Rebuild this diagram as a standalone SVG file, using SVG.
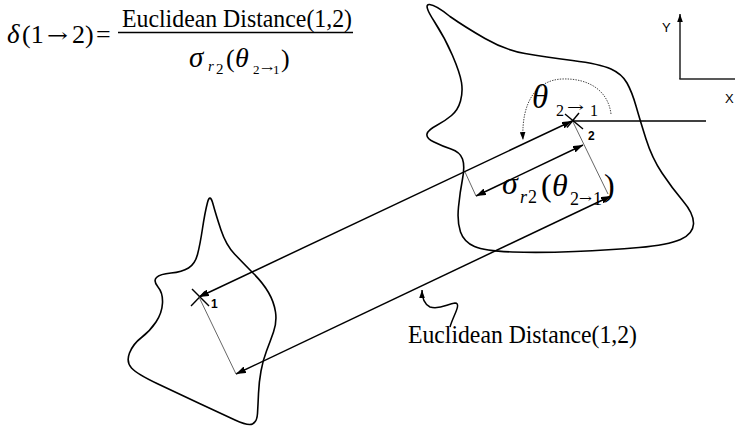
<svg xmlns="http://www.w3.org/2000/svg" width="735" height="428" viewBox="0 0 735 428">
<style>
.blob{fill:none;stroke:#000;stroke-width:1.6}
.ln{fill:none;stroke:#000;stroke-width:1.5}
.thin{fill:none;stroke:#555;stroke-width:0.9}
.dot{fill:none;stroke:#444;stroke-width:1;stroke-dasharray:1.4 1.2}
.ax{fill:none;stroke:#222;stroke-width:1.5}
.x{fill:none;stroke:#000;stroke-width:1.4}
.tm{font-family:"Liberation Serif","Times New Roman",serif;fill:#000}
.arw{font-family:"DejaVu Serif","DejaVu Sans",serif;fill:#000}
.it{font-style:italic}
.sans{font-family:"Liberation Sans",Arial,sans-serif;fill:#000}
.b{font-weight:bold}
</style>
<defs>
<marker id="ah" viewBox="0 0 10 7" refX="10" refY="3.5" markerUnits="userSpaceOnUse" markerWidth="10" markerHeight="7" orient="auto-start-reverse">
<path d="M0,0 L10,3.5 L0,7 z" fill="#000"/>
</marker>
<marker id="ahs" viewBox="0 0 10 7" refX="10" refY="3.5" markerUnits="userSpaceOnUse" markerWidth="8" markerHeight="6" orient="auto">
<path d="M0,0 L10,3.5 L0,7 z" fill="#000"/>
</marker>
</defs>

<g id="equation">
<text class="tm it" x="7" y="43" font-size="27">δ</text>
<text class="tm" x="22" y="43" font-size="26">(1</text>
<text class="arw" x="47" y="42" font-size="20" textLength="21" lengthAdjust="spacingAndGlyphs">→</text>
<text class="tm" x="72" y="43" font-size="26">2)</text>
<text class="tm" x="96" y="43" font-size="26">=</text>
<text class="tm" x="122" y="27" font-size="25" textLength="230" lengthAdjust="spacingAndGlyphs">Euclidean Distance(1,2)</text>
<line x1="118" y1="32.5" x2="353" y2="32.5" stroke="#000" stroke-width="1.3"/>
<text class="tm it" x="189" y="67" font-size="29">σ</text>
<text class="tm it" x="208" y="71" font-size="15">r</text>
<text class="tm" x="216" y="74" font-size="15">2</text>
<text class="tm" x="226" y="67" font-size="26">(</text>
<text class="tm it" x="235" y="67" font-size="28">θ</text>
<text class="tm" x="253" y="74" font-size="13">2</text>
<text class="arw" x="261" y="72" font-size="10" textLength="12" lengthAdjust="spacingAndGlyphs">→</text>
<text class="tm" x="273" y="74" font-size="13">1</text>
<text class="tm" x="281" y="67" font-size="26">)</text>
</g>

<g id="axes">
<line class="ax" x1="680" y1="79" x2="680" y2="14" marker-end="url(#ahs)"/>
<line class="ax" x1="679.3" y1="79" x2="735" y2="79"/>
<text class="sans" x="662" y="32" font-size="13">Y</text>
<text class="sans" x="725" y="103" font-size="13">X</text>
</g>

<g id="region2">
<path class="blob" d="M429.5,4.5 Q423,4 434,21 Q445,38 452.5,55.5 Q460,73 461.5,82.5 Q463,92 460.5,101 Q458,110 451.5,115.5 Q445,121 436.5,125.5 Q428,130 427,134 Q426,138 434,142 Q442,146 451,149 Q460,152 462.5,159 Q465,166 462.5,179 Q460,192 458.5,207 Q457,222 460.5,232 Q464,242 474.5,246.5 Q485,251 512.5,252 Q540,253 575,251.5 Q610,250 639,247.5 Q668,245 680.5,239.5 Q693,234 693.5,224 Q694,214 683,201 Q672,188 662,173 Q652,158 646,139 Q640,120 636,106 Q632,92 627,83 Q622,74 611,69 Q600,64 572.5,60.5 Q545,57 525,53.5 Q505,50 485,38.5 Q465,27 450,16.5 Q436,5 429.5,4.5 Z"/>
<line class="x" x1="565" y1="114" x2="583" y2="129"/>
<line class="x" x1="567" y1="127.5" x2="579" y2="113"/>
<text class="sans b" x="588" y="140" font-size="12">2</text>
</g>

<g id="region1">
<path class="blob" d="M207.5,202.5 Q210,193 213,204 Q216,215 221,230 Q226,245 234.5,254 Q243,263 253,273 Q263,283 268.5,292.5 Q274,302 275.5,312 Q277,322 273.5,332 Q270,342 266.5,351 Q263,360 261,371 Q259,382 258.5,393.5 Q258,405 257.5,413.5 Q257,422 252.5,424 Q248,426 235,420 Q222,414 199.5,403.5 Q177,393 157,383.5 Q137,374 131.5,368 Q126,362 129.5,353 Q133,344 141.5,337.5 Q150,331 156,322 Q162,313 162.5,303 Q163,293 158,287 Q153,281 156.5,277.5 Q160,274 171,273 Q182,272 188.5,268 Q195,264 197.5,254.5 Q200,245 202.5,228.5 Q205,212 207.5,202.5 Z"/>
<line class="x" x1="192" y1="289" x2="209" y2="306"/>
<line class="x" x1="191" y1="306" x2="205" y2="291.5"/>
<text class="sans b" x="211" y="308" font-size="12">1</text>
</g>

<g id="connectors">
<line class="ln" x1="199" y1="297" x2="572" y2="121" marker-start="url(#ah)" marker-end="url(#ah)"/>
<line class="ln" x1="236" y1="374" x2="611" y2="196" marker-start="url(#ah)" marker-end="url(#ah)"/>
<line class="ln" x1="476" y1="196" x2="583" y2="145" marker-start="url(#ah)" marker-end="url(#ah)"/>
<line class="thin" x1="199" y1="297" x2="236" y2="374"/>
<line class="thin" x1="573" y1="122" x2="608" y2="194"/>
<line class="thin" x1="465" y1="172" x2="476" y2="196"/>
<line class="ln" x1="573" y1="121" x2="706" y2="121" stroke-width="1.2"/>
<path class="dot" d="M611,114 C608,90 588,78 562,79 C538,80 521,100 523,140" marker-end="url(#ahs)"/>
<path class="ln" stroke-width="1.3" d="M450,327 C453,316 462,303 455,303 C447,304 440,310 430,307 C424,304 422,298 422,290" marker-end="url(#ahs)"/>
</g>

<g id="labels">
<text class="tm it" x="532" y="108" font-size="33">θ</text>
<text class="tm" x="556" y="116" font-size="16">2</text>
<text class="arw" x="567" y="112" font-size="14" textLength="17" lengthAdjust="spacingAndGlyphs">→</text>
<text class="tm" x="590" y="116" font-size="16">1</text>

<text class="tm it" x="502" y="194" font-size="32">σ</text>
<text class="tm it" x="520" y="203" font-size="18">r</text>
<text class="tm" x="528" y="203" font-size="18">2</text>
<text class="tm" x="541" y="196" font-size="32">(</text>
<text class="tm it" x="552" y="196" font-size="32">θ</text>
<text class="tm" x="570" y="205" font-size="18">2</text>
<text class="arw" x="579" y="203" font-size="13" textLength="13" lengthAdjust="spacingAndGlyphs">→</text>
<text class="tm" x="593" y="205" font-size="18">1</text>
<text class="tm" x="604" y="196" font-size="32">)</text>

<text class="tm" x="408" y="343" font-size="25" textLength="229" lengthAdjust="spacingAndGlyphs">Euclidean Distance(1,2)</text>
</g>
</svg>
